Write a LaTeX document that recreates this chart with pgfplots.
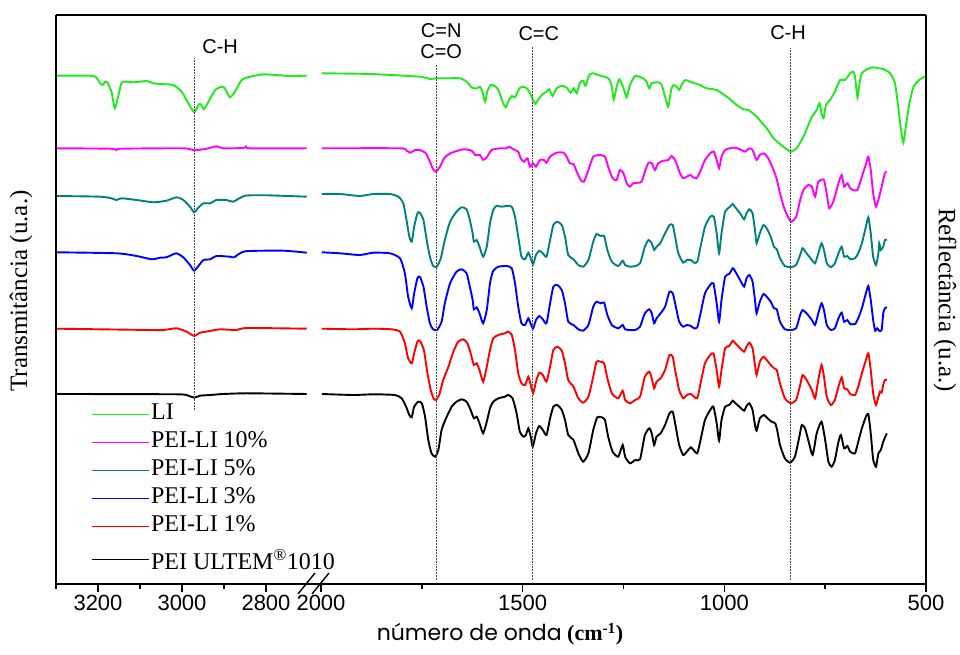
\documentclass[border=0pt]{standalone}
\usepackage{fontspec}
\setmainfont{Liberation Serif}
\setsansfont{Liberation Sans}
\newfontfamily\gothic{Poppins}
\usepackage{pgfplots}
\pgfplotsset{compat=1.18}
\definecolor{cLI}{RGB}{30,235,30}
\definecolor{cMag}{RGB}{255,0,255}
\definecolor{cTeal}{RGB}{0,128,128}
\definecolor{cBlue}{RGB}{0,0,255}
\definecolor{cRed}{RGB}{255,0,0}
\begin{document}
\begin{tikzpicture}
\useasboundingbox (0,0) rectangle (960pt,655pt);
\pgfplotsset{
  common/.style={
    scale only axis, height=569pt, ymin=0, ymax=569, ytick=\empty,
    x dir=reverse, axis x line=box,
    axis line style={-, line width=1.4pt},
    xtick pos=left, tick align=outside,
    major tick length=8pt, minor tick length=5pt,
    every tick/.style={black, line width=1.4pt},
    ticklabel style={font=\sffamily\fontsize{22}{22}\selectfont},
    /pgf/number format/assume math mode=true,
    /pgf/number format/1000 sep={},
    every axis plot/.append style={line width=1.9pt, smooth, tension=0.35},
  },
  dline/.style={densely dotted, gray!60!black, line width=0.8pt, forget plot, sharp plot},
}
\begin{axis}[common, width=252pt, at={(56pt,71pt)}, anchor=south west,
  axis y line=left, y axis line style={-},
  xmin=2700, xmax=3300, xtick={3200,3000,2800}, minor xtick={3300,3100,2900},
  legend style={draw=none, fill=none, at={(0.127,0.322)}, anchor=north west,
    font=\fontsize{24}{24}\selectfont, row sep=5pt,
    nodes={inner sep=1pt, text height=16pt, text depth=5pt}},
  legend cell align=left,
  legend image code/.code={\draw[#1, line width=1.9pt] (0pt,0pt) -- (57pt,0pt);},
]
\addplot[cLI] coordinates {(3298,508.3)(3211,508)(3195,500.7)(3189,499)(3183,502.3)(3178,502)(3168,492.3)(3160,475.7)(3152,487.3)(3144,501.3)(3132,502.3)(3116,501.7)(3100,502.3)(3084,503)(3068,500.7)(3052,500)(3021,499)(3001,492.3)(2985,480.7)(2971,471.7)(2961,479)(2956,480)(2948,474.7)(2937,482.3)(2921,494)(2906,497.3)(2898,495.7)(2886,486.7)(2874,492.3)(2858,504)(2838,507.3)(2806,509.7)(2767,508.7)(2743,508)(2703,508.3)};
\addlegendentry{LI}
\addplot[cMag] coordinates {(3298,435.7)(3171,435.3)(3156,434)(3144,435.3)(2997,435.7)(2971,433.7)(2941,435.3)(2918,437.7)(2902,435.7)(2854,436)(2848,437.3)(2838,435.7)(2703,435.7)};
\addlegendentry{PEI-LI 10\%}
\addplot[cTeal] coordinates {(3298,388)(3195,387.3)(3168,385.7)(3156,384)(3144,385.7)(3108,384)(3068,381.7)(3037,383.3)(3013,386.7)(2997,384)(2981,377.3)(2971,371.7)(2961,376.3)(2949,380.7)(2933,380.7)(2918,384)(2894,384)(2878,382.3)(2850,388.3)(2798,388.7)(2703,387.3)};
\addlegendentry{PEI-LI 5\%}
\addplot[cBlue] coordinates {(3298,331.7)(3156,330.7)(3108,328)(3072,324.7)(3052,326.3)(3037,326.7)(3014,330.7)(2997,326.7)(2981,319)(2971,313.3)(2959,319)(2949,324)(2933,324.7)(2918,328)(2886,327.3)(2876,326.7)(2850,332.7)(2759,333.3)(2703,331.3)};
\addlegendentry{PEI-LI 3\%}
\addplot[cRed] coordinates {(3298,255.3)(3076,254)(3044,254)(3013,255.7)(2989,252.3)(2971,248)(2957,251.3)(2933,253)(2910,254.7)(2870,254)(2846,256)(2703,255.3)};
\addlegendentry{PEI-LI 1\%}
\addplot[black] coordinates {(3298,190)(3013,189.7)(2985,188.3)(2971,186.3)(2957,188.3)(2933,189)(2902,190)(2846,190.7)(2703,190)};
\addlegendentry[text height=26pt]{PEI ULTEM\textsuperscript{®}1010}
\addplot[dline] coordinates {(2970,174) (2970,526)};
\node[anchor=west, font=\sffamily\fontsize{20}{20}\selectfont] at (axis cs:2960,537) {C-H};
\end{axis}

\begin{axis}[common, width=605pt, at={(321pt,71pt)}, anchor=south west,
  axis y line=right, y axis line style={-},
  xmin=500, xmax=2000, xtick={2000,1500,1000,500}, minor xtick={1750,1250,750},
]
\addplot[cLI] coordinates {(1998,510.7)(1879,510)(1755,507.3)(1730,505)(1713,505.7)(1688,505.7)(1655,505.7)(1639,502.3)(1626,496.3)(1614,495.7)(1606,497.3)(1600,492.3)(1593,482.3)(1588,492.3)(1579,499)(1569,498)(1560,494)(1550,482.3)(1542,476.7)(1534,484)(1527,488)(1519,486.7)(1508,495.7)(1497,497.3)(1486,494)(1476,485.7)(1469,480)(1461,484.7)(1450,490)(1441,492.3)(1434,494.7)(1426,488)(1416,495.7)(1403,498.3)(1391,496.3)(1381,491.3)(1373,495.7)(1366,490.7)(1358,501.3)(1350,503.3)(1344,498)(1335,509)(1325,510.7)(1308,508.3)(1292,506.7)(1285,504.7)(1279,497.3)(1274,484.7)(1267,497.3)(1260,504.7)(1250,495.7)(1242,486.7)(1234,499)(1221,508)(1201,505.7)(1193,502.3)(1186,495.7)(1180,500.7)(1164,501.7)(1155,499)(1147,487.3)(1139,477.3)(1132,494)(1126,499)(1118,497.3)(1112,494)(1106,499)(1097,504)(1085,502.3)(1073,500.7)(1060,499)(1044,495.7)(1019,494)(994,487.3)(969,479)(953,474.7)(940,474)(920,467.3)(895,455.7)(878,445.7)(854,437.3)(835,432.3)(821,435.7)(804,447.3)(783,467.3)(771,474)(764,480.7)(759,470.7)(754,465.7)(748,479)(738,484)(726,492.3)(713,504)(701,504)(688,510.7)(680,512.3)(676,507.3)(670,486.7)(665,500.7)(659,510.7)(647,514.7)(631,516.7)(618,515.7)(606,515)(589,510.7)(577,500.7)(569,477.3)(562,454)(556,441.3)(550,457.3)(541,480.7)(531,497.3)(515,504.7)(502,507.3)};
\addplot[cMag] coordinates {(1998,435.7)(1804,435.7)(1788,433.3)(1778,431.3)(1767,434)(1755,434)(1740,430.7)(1730,422.3)(1722,414.7)(1715,412.3)(1705,417.3)(1693,426.7)(1676,431.3)(1647,434.7)(1626,433.3)(1618,429)(1606,429)(1598,424)(1589,426.7)(1577,434)(1556,435.7)(1540,435.7)(1533,437.3)(1523,434.7)(1511,432.3)(1505,425.7)(1497,422.3)(1488,425.7)(1482,417.3)(1474,420.7)(1467,417.3)(1457,424)(1447,424)(1441,421.3)(1432,427.3)(1416,431.3)(1399,431.3)(1391,427.3)(1383,420.7)(1374,420)(1366,412.3)(1356,404)(1348,402.3)(1337,414)(1325,427.3)(1308,429)(1296,427.3)(1288,417.3)(1277,405.7)(1267,404)(1259,414)(1250,410.7)(1242,400.7)(1234,397.3)(1226,400.7)(1213,401.3)(1205,402.3)(1197,412.3)(1188,421.3)(1180,420.7)(1172,414)(1164,420.7)(1151,423.3)(1139,424)(1131,428)(1122,424)(1110,410.7)(1102,405.7)(1093,407.3)(1085,409)(1077,406.7)(1069,405.7)(1060,412.3)(1048,424)(1035,430.7)(1026,432.3)(1019,424)(1013,415.7)(1007,427.3)(998,434)(986,435.7)(974,436.3)(961,434.7)(949,432.3)(938,435.7)(930,434)(920,424)(912,429)(902,430.7)(891,425.7)(878,414)(870,404.7)(862,390.7)(850,374)(835,362.3)(822,367.3)(812,384)(804,394)(792,399)(783,397.3)(775,387.3)(767,402.3)(753,404)(745,387.3)(740,375.7)(730,382.3)(717,400.7)(709,409)(703,397.3)(695,400.7)(688,395.7)(680,394)(670,394)(659,407.3)(647,422.3)(643,427.3)(637,414)(631,390.7)(624,377.3)(616,387.3)(610,397.3)(602,410.7)(597,412.3)};
\addplot[cTeal] coordinates {(1998,390)(1953,390)(1904,388)(1870,390)(1829,390)(1808,387.3)(1796,380.7)(1788,364)(1781,347.3)(1775,342.3)(1769,357.3)(1761,370.7)(1755,371.3)(1746,364)(1738,344)(1730,327.3)(1722,318)(1713,317.3)(1703,325.7)(1693,344)(1680,362.3)(1664,372.3)(1651,376.7)(1639,374.7)(1631,364)(1624,350.7)(1621,342.3)(1614,344)(1607,337.3)(1598,327.3)(1589,337.3)(1581,360.7)(1573,374)(1565,378)(1552,377.3)(1540,378)(1527,377.3)(1519,367.3)(1511,347.3)(1503,327.3)(1494,324.7)(1486,331.3)(1480,325.7)(1474,320)(1467,329)(1459,333.3)(1450,330.7)(1441,327.3)(1432,344)(1424,359)(1414,362.3)(1403,359)(1395,347.3)(1387,329)(1374,324.7)(1362,319)(1350,317.3)(1337,324)(1325,342.3)(1317,350)(1307,348)(1298,348)(1290,334)(1279,322.3)(1263,318)(1252,323.3)(1246,319)(1234,317.3)(1221,318)(1209,320.7)(1197,337.3)(1188,344)(1180,340.7)(1174,334)(1168,337.3)(1159,340.7)(1147,350.7)(1136,359)(1128,359)(1122,347.3)(1114,330.7)(1102,321.3)(1093,324)(1083,324)(1075,321.3)(1067,322.3)(1059,337.3)(1048,357.3)(1035,367.3)(1026,367.3)(1019,350.7)(1013,330.7)(1007,350.7)(998,372.3)(986,377.3)(979,380)(974,377.3)(961,370.7)(951,364.7)(945,370.7)(938,374.7)(930,370.7)(924,354)(920,340.7)(912,350.7)(903,359)(895,355.7)(885,347.3)(877,337.3)(870,334.7)(862,325.7)(850,318)(835,316.7)(822,319)(812,329)(806,335.7)(796,330.7)(783,324)(775,320.7)(767,330.7)(759,340.7)(753,334)(746,320.7)(736,316.7)(726,320.7)(717,330.7)(709,337.3)(703,327.3)(695,328)(688,324.7)(676,325.7)(668,330.7)(659,340.7)(649,357.3)(643,366.7)(637,350.7)(631,327.3)(624,319)(618,330.7)(616,340.7)(612,334)(606,337.3)(602,344)(597,344)};
\addplot[cBlue] coordinates {(1998,331.7)(1953,330.7)(1904,329)(1870,331.3)(1829,330.7)(1804,325.7)(1792,310.7)(1784,287.3)(1775,275.7)(1769,290.7)(1761,305.7)(1755,307.3)(1746,297.3)(1738,277.3)(1730,260.7)(1722,254.7)(1712,254)(1701,262.3)(1693,280.7)(1680,300.7)(1664,312.3)(1651,314.7)(1639,310.7)(1631,297.3)(1624,284)(1621,274.7)(1614,276.7)(1607,270.7)(1598,260.7)(1589,274)(1581,300.7)(1573,313.3)(1560,317.3)(1540,318)(1527,315.7)(1519,300.7)(1511,277.3)(1503,260.7)(1494,259)(1486,265.7)(1480,260)(1474,255.7)(1467,264)(1459,268)(1450,264.7)(1441,260.7)(1432,280.7)(1424,297.3)(1414,299)(1403,294)(1395,280.7)(1387,262.3)(1374,259)(1362,254.7)(1350,253.3)(1337,259)(1325,277.3)(1317,282.3)(1307,280.7)(1298,281.3)(1290,269)(1279,259)(1263,255.7)(1252,259)(1246,254.7)(1234,254)(1221,254)(1209,257.3)(1197,270.7)(1186,274.7)(1180,270.7)(1174,260.7)(1168,265.7)(1158,270.7)(1147,277.3)(1136,292.3)(1128,290.7)(1122,280.7)(1112,262.3)(1102,257.3)(1093,259)(1083,258)(1075,255.7)(1067,256.7)(1059,270.7)(1048,290.7)(1035,299)(1027,300.7)(1019,280.7)(1013,262.3)(1007,284)(998,307.3)(988,310)(979,315.7)(974,313.3)(961,304)(951,297.3)(945,305.7)(938,309)(930,302.3)(924,284)(920,270.7)(912,282.3)(903,290)(895,287.3)(885,282.3)(877,275.7)(870,274.7)(862,262.3)(850,254.7)(835,254)(822,255.7)(812,269)(806,274)(796,270.7)(783,264)(775,259)(767,270.7)(759,280.7)(753,274)(746,259)(736,254)(726,255.7)(717,265.7)(709,271.3)(703,262.3)(695,264)(688,260)(676,260)(668,265.7)(659,275.7)(649,290.7)(643,298)(637,284)(631,264)(626,253.3)(621,255.7)(616,253.3)(610,254)(606,270.7)(602,275.7)(597,276.7)};
\addplot[cRed] coordinates {(1998,255.3)(1920,254.7)(1870,255.3)(1825,254.7)(1804,252.3)(1792,240.7)(1784,225.7)(1775,220.7)(1769,230.7)(1761,242.3)(1755,243.3)(1745,234)(1736,210.7)(1728,194)(1720,184.7)(1715,184)(1707,189)(1697,204)(1684,217.3)(1672,232.3)(1660,242.3)(1647,244.7)(1637,240.7)(1629,230.7)(1621,219)(1614,220.7)(1607,214)(1598,202.3)(1589,217.3)(1581,234)(1573,245.7)(1560,249)(1544,250.7)(1536,252.3)(1527,249)(1519,234)(1511,210.7)(1503,200.7)(1494,199)(1486,207.3)(1480,199)(1474,190.7)(1467,202.3)(1459,211.3)(1450,209)(1441,202.3)(1432,217.3)(1424,234)(1414,237.3)(1403,233.3)(1395,220.7)(1387,204)(1374,197.3)(1362,185.7)(1350,181.3)(1337,187.3)(1325,207.3)(1317,222.3)(1307,222.3)(1298,220.7)(1290,205.7)(1279,190.7)(1263,185.7)(1252,193.3)(1246,184)(1234,180.7)(1221,184)(1209,187.3)(1197,207.3)(1186,212.3)(1180,205.7)(1174,195.7)(1168,202.3)(1158,205.7)(1147,214)(1136,229)(1128,227.3)(1122,214)(1112,194)(1102,185.7)(1093,189)(1083,190)(1075,187.3)(1067,185.7)(1059,200.7)(1048,220.7)(1035,229)(1027,230.7)(1019,214)(1013,197.3)(1007,214)(998,235.7)(988,238)(979,243.3)(974,241.3)(961,235.7)(951,232.3)(945,237.3)(938,241.3)(930,235.7)(924,219)(920,209)(912,222.3)(903,227.3)(895,224)(885,219)(877,215.7)(870,214)(862,200.7)(850,185.7)(835,180.7)(822,184)(812,199)(806,209)(796,204)(783,194)(775,185.7)(767,204)(759,219)(753,207.3)(746,187.3)(736,179)(726,184)(717,197.3)(709,206.7)(703,195.7)(695,194.7)(688,190)(676,189)(668,197.3)(659,210.7)(649,224)(643,230.7)(637,214)(631,190.7)(624,179)(618,187.3)(614,192.3)(610,191.3)(606,199)(602,204)(597,204)};
\addplot[black] coordinates {(1998,190)(1920,189)(1870,189.7)(1817,189)(1800,185.7)(1789,177.3)(1781,169)(1775,166.7)(1769,177.3)(1759,182.3)(1750,180.7)(1742,167.3)(1734,144)(1726,130.7)(1717,127.3)(1709,134)(1701,154)(1690,165.7)(1676,177.3)(1664,182.3)(1651,184.7)(1639,182.3)(1629,174)(1621,165.7)(1614,167.3)(1607,160.7)(1598,150.7)(1589,162.3)(1581,175.7)(1573,182.3)(1560,185.7)(1544,187.3)(1536,189)(1525,185.7)(1515,170.7)(1507,152.3)(1498,147.3)(1492,149)(1486,155.7)(1480,147.3)(1475,137.3)(1467,150.7)(1459,158)(1450,154)(1441,149)(1432,165.7)(1424,177.3)(1414,179)(1403,174)(1395,164)(1387,149)(1374,144)(1362,130.7)(1350,122.3)(1337,130.7)(1325,154)(1315,166.7)(1304,166.7)(1296,164)(1288,147.3)(1277,132.3)(1263,127.3)(1252,139)(1246,127.3)(1234,120.7)(1221,124)(1209,124.7)(1197,149)(1186,155.7)(1180,150.7)(1174,139)(1168,147.3)(1158,150.7)(1147,159)(1136,170.7)(1128,172.3)(1122,160.7)(1112,139)(1102,129)(1093,132.3)(1083,136.7)(1075,133.3)(1067,130.7)(1059,144)(1048,164)(1035,174)(1027,177.3)(1019,160.7)(1013,143.3)(1007,164)(998,177.3)(988,179)(979,183.3)(974,181.3)(961,176.7)(951,173.3)(945,178)(938,180.7)(930,174)(924,159)(920,153.3)(912,165.7)(902,169)(893,165.7)(883,162.3)(874,160.7)(869,154)(862,139)(850,125.7)(837,121.3)(825,127.3)(814,147.3)(808,159)(800,155.7)(792,144)(781,129)(771,150.7)(759,162.3)(750,144)(742,122.3)(734,117.3)(726,124)(717,142.3)(711,149)(703,135.7)(695,138)(688,132.3)(676,130.7)(668,142.3)(659,155.7)(649,167.3)(643,170)(637,150.7)(631,124.7)(624,117.3)(618,130.7)(612,134)(606,142.3)(597,150.7)};
\addplot[dline] coordinates {(1715,4) (1715,519)};
\addplot[dline] coordinates {(1475,4) (1475,537)};
\addplot[dline] coordinates {(837,4) (837,536)};
\node[font=\sffamily\fontsize{20}{20}\selectfont] at (axis cs:1702,553) {C=N};
\node[font=\sffamily\fontsize{20}{20}\selectfont] at (axis cs:1702,532) {C=O};
\node[font=\sffamily\fontsize{20}{20}\selectfont] at (axis cs:1460,550) {C=C};
\node[font=\sffamily\fontsize{20}{20}\selectfont] at (axis cs:842,551) {C-H};
\end{axis}

% bridge between the two panels and the break marks
\draw[line width=1.4pt] (307pt,71pt) -- (322pt,71pt);
\draw[line width=1.4pt] (307pt,640pt) -- (322pt,640pt);
\draw[line width=1.4pt] (298pt,61pt) -- (315pt,82pt);
\draw[line width=1.4pt] (312pt,61pt) -- (329pt,82pt);

\node[rotate=90, font=\fontsize{25}{25}\selectfont] at (21pt,364pt) {Transmitância (u.a.)};
\node[rotate=-90, font=\fontsize{25}{25}\selectfont] at (945pt,355pt) {Reflectância (u.a.)};
\node[font=\fontsize{22}{22}\selectfont, anchor=base] at (500pt,14pt) {{\gothic número de onda} \textbf{(cm\textsuperscript{-1})}};
\end{tikzpicture}
\end{document}
